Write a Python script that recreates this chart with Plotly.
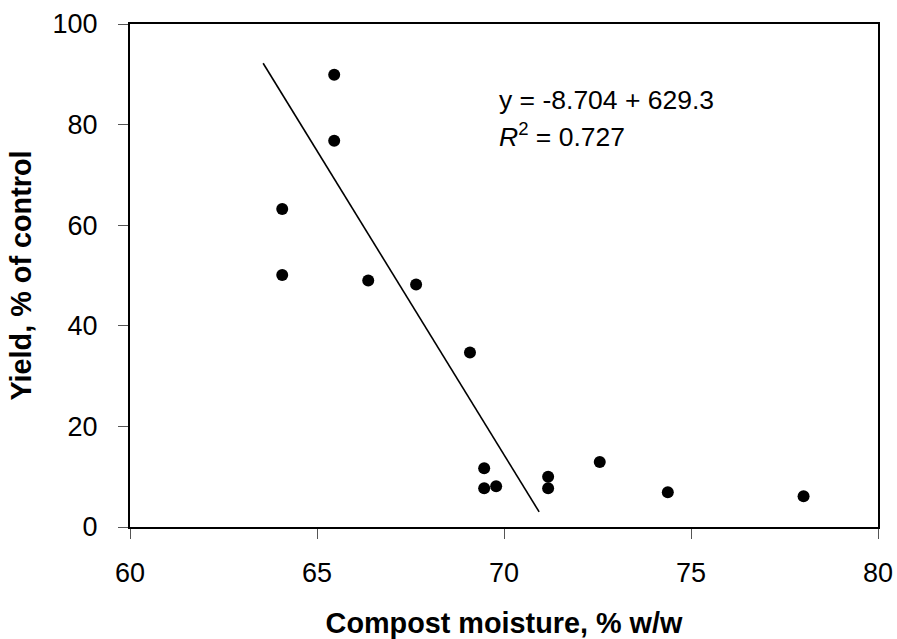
import plotly.graph_objects as go

moisture = [65.46, 65.46, 64.07, 64.07, 66.37, 67.65, 69.09, 69.47, 69.47, 69.79,
            71.18, 71.18, 72.56, 74.38, 78.01]
yield_pct = [89.9, 76.8, 63.2, 50.1, 49.0, 48.2, 34.7, 11.7, 7.7, 8.1,
             10.0, 7.7, 12.9, 6.9, 6.1]

fit_x = [63.56, 70.94]
fit_y = [92.2, 3.0]

x_ticks = [60, 65, 70, 75, 80]
y_ticks = [0, 20, 40, 60, 80, 100]

eq_text = "y = -8.704 + 629.3"
r2_text = "<i>R</i><sup>2</sup> = 0.727"

FONT = "Liberation Sans, Arial, sans-serif"

fig = go.Figure()
fig.add_trace(go.Scatter(x=fit_x, y=fit_y, mode="lines",
                         line=dict(color="black", width=1.6), showlegend=False))
fig.add_trace(go.Scatter(x=moisture, y=yield_pct, mode="markers",
                         marker=dict(color="black", size=12), showlegend=False))

fig.add_annotation(x=69.81, y=84.9, xref="x", yref="y", text=eq_text,
                   showarrow=False, xanchor="left", yanchor="middle",
                   font=dict(family=FONT, size=26.5, color="black"))
fig.add_annotation(x=69.81, y=77.9, xref="x", yref="y", text=r2_text,
                   showarrow=False, xanchor="left", yanchor="middle",
                   font=dict(family=FONT, size=26.5, color="black"))

fig.update_layout(
    width=897, height=639,
    margin=dict(l=130, r=19, t=24, b=112),
    paper_bgcolor="white", plot_bgcolor="white",
    font=dict(family=FONT, color="black"),
)
fig.update_xaxes(
    range=[60, 80], tickvals=x_ticks, ticktext=[str(v) for v in x_ticks],
    showgrid=False, zeroline=False, automargin=False,
    showline=True, linecolor="black", linewidth=2, mirror=True,
    ticks="outside", ticklen=10, tickcolor="#555", tickwidth=1,
    ticklabelstandoff=11,
    tickfont=dict(family=FONT, size=27, color="black"),
    title=dict(text="Compost moisture, % w/w", standoff=26,
               font=dict(family=FONT, size=28.8, color="black", weight="bold")),
)
fig.update_yaxes(
    range=[0, 100], tickvals=y_ticks, ticktext=[str(v) for v in y_ticks],
    showgrid=False, zeroline=False, automargin=False,
    showline=True, linecolor="black", linewidth=2, mirror=True,
    ticks="outside", ticklen=10, tickcolor="#555", tickwidth=1,
    ticklabelstandoff=15,
    tickfont=dict(family=FONT, size=27, color="black"),
    title=dict(text="Yield, % of control", standoff=12,
               font=dict(family=FONT, size=28.8, color="black", weight="bold")),
)

fig.write_html(
    "out.html",
    config={"displayModeBar": False},
    post_script="document.body.style.margin='0';document.body.style.overflow='hidden';",
)
